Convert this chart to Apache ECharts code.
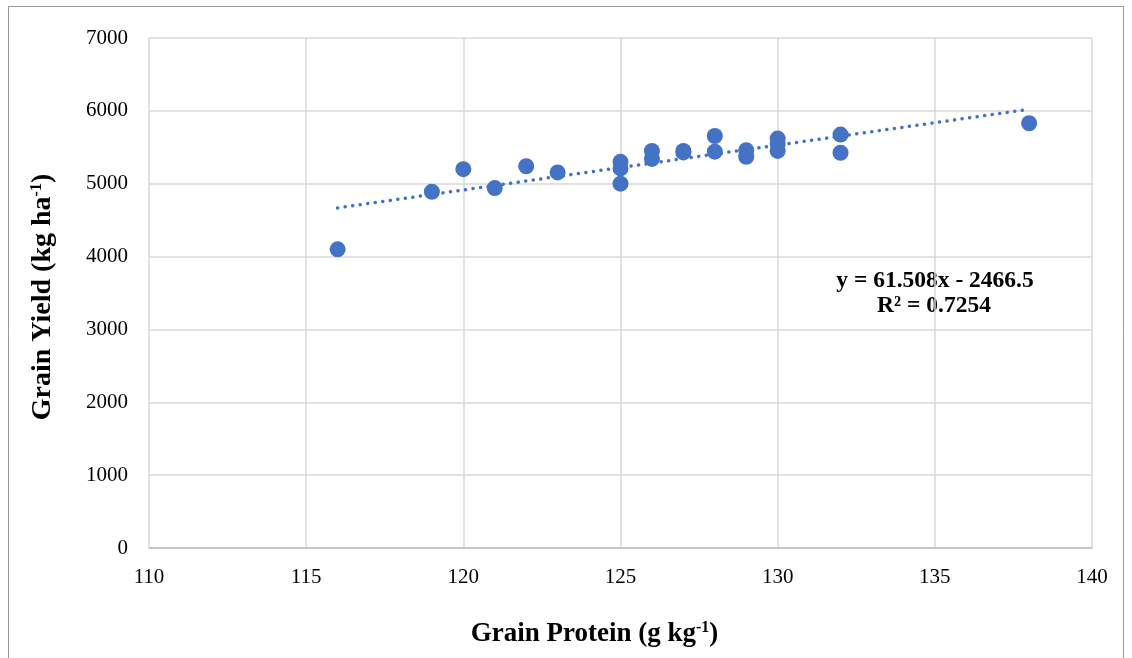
<!DOCTYPE html>
<html>
<head>
<meta charset="utf-8">
<script src="https://cdn.jsdelivr.net/npm/echarts@6/dist/echarts.min.js"></script>
<style>
    html, body { margin: 0; padding: 0; background: #fff; }
    #chart { width: 1132px; height: 658px; }
</style>
</head>
<body>
<div id="chart"></div>
<script>
// grain protein (g/kg) vs grain yield (kg/ha)
const protein = [116, 119, 120, 121, 122, 123, 125, 125, 125, 126, 126, 127, 127, 128, 128, 129, 129, 130, 130, 130, 132, 132, 138]
const yieldVals = [4100, 4890, 5200, 4940, 5240, 5155, 5300, 5210, 5000, 5450, 5340, 5450, 5430, 5655, 5440, 5460, 5370, 5620, 5545, 5450, 5675, 5425, 5830]

// linear trend endpoints, from y = 61.508x - 2466.5
const trendX = [116, 138]
const trendY = [4668, 6022]

const xTicks = [110, 115, 120, 125, 130, 135, 140]
const yTicks = [0, 1000, 2000, 3000, 4000, 5000, 6000, 7000]

const blue = '#4472C4'
const serif = '"Liberation Serif", "Times New Roman", serif'

function titleRich(size){
    return {
        a: { fontFamily: serif, fontWeight: 'bold', fontSize: size, color: '#000' },
        s: { fontFamily: serif, fontWeight: 'bold', fontSize: Math.round(size * 0.58), color: '#000', verticalAlign: 'top', padding: [0, 0, 12, 0] }
    }
}

const chart = echarts.init(document.getElementById('chart'))

chart.setOption({
    animation: false,
    textStyle: { fontFamily: serif },
    graphic: [{
        type: 'rect',
        shape: { x: 8.5, y: 6.5, width: 1115, height: 660 },
        style: { fill: 'none', stroke: '#9a9a9a', lineWidth: 1 },
        silent: true
    }, {
        type: 'text',
        x: 935, y: 281,
        style: {
            text: 'y = 61.508x - 2466.5',
            font: 'bold 23.5px ' + serif,
            fill: '#000',
            align: 'center',
            verticalAlign: 'middle'
        }
    }, {
        type: 'text',
        x: 934, y: 306,
        style: {
            text: 'R² = 0.7254',
            font: 'bold 23.5px ' + serif,
            fill: '#000',
            align: 'center',
            verticalAlign: 'middle'
        }
    }],
    grid: { left: 149, right: 40, top: 38, bottom: 110 },
    xAxis: {
        type: 'value',
        min: xTicks[0], max: xTicks[xTicks.length - 1], interval: 5,
        name: '{a|Grain Protein (g kg}{s|-1}{a|)}',
        nameLocation: 'middle',
        nameGap: 72,
        nameTextStyle: { rich: titleRich(27), padding: [0, 52, 0, 0] },
        axisLine: { show: true, lineStyle: { color: '#bfbfbf', width: 1.5 } },
        axisTick: { show: false },
        axisLabel: { fontFamily: serif, fontSize: 21, color: '#000', margin: 19 },
        splitLine: { show: true, lineStyle: { color: '#d9d9d9', width: 1.5 } }
    },
    yAxis: {
        type: 'value',
        min: yTicks[0], max: yTicks[yTicks.length - 1], interval: 1000,
        name: '{a|Grain Yield (kg ha}{s|-1}{a|)}',
        nameLocation: 'middle',
        nameRotate: 90,
        nameGap: 92,
        nameTextStyle: { rich: titleRich(28), padding: [0, 8, 0, 0] },
        axisLine: { show: false },
        axisTick: { show: false },
        axisLabel: { fontFamily: serif, fontSize: 21, color: '#000', margin: 21, formatter: v => String(v) },
        splitLine: { show: true, lineStyle: { color: '#d9d9d9', width: 1.5 } }
    },
    series: [{
        type: 'line',
        data: trendX.map((x, i) => [x, trendY[i]]),
        showSymbol: false,
        lineStyle: { color: blue, width: 3.5, type: [0.1, 7.5], cap: 'round' },
        silent: true,
        z: 1
    }, {
        type: 'scatter',
        data: protein.map((x, i) => [x, yieldVals[i]]),
        symbolSize: 16,
        itemStyle: { color: blue, opacity: 1 },
        z: 2
    }]
})
</script>
</body>
</html>
